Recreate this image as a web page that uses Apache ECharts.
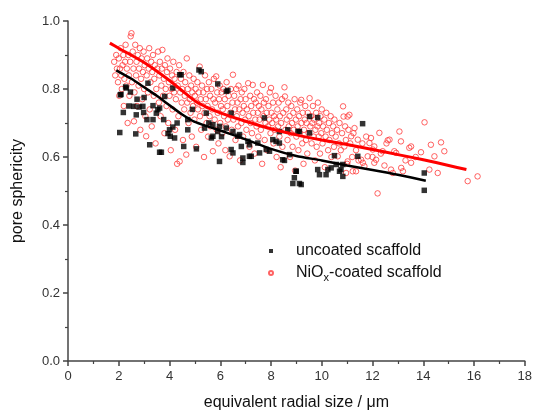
<!DOCTYPE html>
<html><head><meta charset="utf-8">
<script src="https://cdn.jsdelivr.net/npm/echarts@6/dist/echarts.min.js"></script>
<style>html,body{margin:0;padding:0;background:#fff}#c{width:535px;height:416px}</style>
</head><body><div id="c"></div>
<script>
const xTicks = [0,2,4,6,8,10,12,14,16,18];
const yTicks = [0.0,0.2,0.4,0.6,0.8,1.0];
const seriesNames = ['uncoated scaffold','NiOx-coated scaffold'];

const uncoatedPoints = [
[2.04,0.672],[2.67,0.668],[2.18,0.731],[2.09,0.784],[2.3,0.803],[2.46,0.791],[2.72,0.77],[2.59,0.749],[2.8,0.747],[2.98,0.731],
[3.11,0.71],[3.35,0.751],[3.61,0.744],[3.61,0.614],[3.48,0.729],[3.77,0.71],[3.94,0.669],[4.03,0.661],[4.13,0.688],[4.4,0.842],
[5.16,0.856],[4.56,0.631],[5.06,0.624],[4.72,0.68],[3.15,0.817],[2.27,0.806],[2.06,0.783],[4.46,0.842],[5.9,0.815],[6.3,0.796],
[3.22,0.636],[3.68,0.614],[5.71,0.661],[6.24,0.685],[6.5,0.612],[6.89,0.584],[7.22,0.602],[7.55,0.612],[7.81,0.622],[5.97,0.69],
[5.38,0.685],[4.2,0.656],[4.0,0.68],[3.54,0.739],[2.95,0.749],[2.69,0.724],[4.13,0.803],[3.81,0.778],[3.35,0.71],[4.72,0.71],
[6.76,0.666],[7.09,0.646],[5.25,0.851],[6.24,0.793],[5.45,0.729],[5.71,0.695],[5.9,0.675],[5.65,0.656],[6.43,0.729],[6.5,0.675],
[6.69,0.661],[6.83,0.631],[7.15,0.636],[7.48,0.641],[7.94,0.617],[6.43,0.622],[6.89,0.597],[7.15,0.602],[8.2,0.646],[8.33,0.675],
[8.66,0.68],[9.12,0.675],[8.46,0.592],[8.99,0.558],[8.92,0.539],[8.86,0.522],[9.12,0.522],[9.52,0.719],[9.84,0.563],[9.91,0.548],
[10.24,0.563],[10.57,0.578],[10.76,0.563],[10.83,0.543],[5.97,0.587],[9.84,0.716],[11.61,0.698],[11.42,0.602],[10.5,0.604],[10.83,0.578],
[10.17,0.548],[10.7,0.558],[8.99,0.558],[9.19,0.519],[14.04,0.553],[14.04,0.502],[8.53,0.59],[8.07,0.651],[8.33,0.641],[7.74,0.715],
[9.52,0.671],[9.06,0.675],[8.73,0.607],[10.37,0.568],[4.9,0.74],[5.55,0.7],[4.3,0.7],[3.0,0.775],[2.4,0.75],[6.05,0.66]
];

const coatedPoints = [
[1.82,0.88],[1.86,0.84],[1.9,0.9],[1.93,0.86],[1.97,0.82],[2.0,0.89],[2.02,0.78],[2.05,0.86],[2.08,0.92],[2.1,0.84],[2.12,0.8],[2.15,0.87],[2.18,0.9],[2.2,0.75],[2.22,0.83],[2.25,0.88],[2.27,0.93],[2.3,0.81],[2.32,0.86],[2.35,0.7],[2.38,0.9],[2.4,0.84],[2.42,0.78],[2.45,0.88],[2.47,0.955],[2.5,0.964],[2.52,0.82],
[2.55,0.91],[2.58,0.86],[2.6,0.705],[2.62,0.79],[2.65,0.93],[2.68,0.84],[2.7,0.88],[2.72,0.75],[2.75,0.9],[2.78,0.81],[2.8,0.86],[2.83,0.92],[2.85,0.68],[2.88,0.83],[2.9,0.89],[2.93,0.77],[2.95,0.85],[2.98,0.91],[3.0,0.8],[3.02,0.87],[3.05,0.72],[3.08,0.661],[3.1,0.84],[3.12,0.89],[3.15,0.79],[3.18,0.86],[3.2,0.92],[3.22,0.74],[3.25,0.82],[3.28,0.88],[3.3,0.69],[3.32,0.85],[3.35,0.9],[3.38,0.78],[3.4,0.83],[3.42,0.87],[3.45,0.64],[3.48,0.8],
[3.52,0.86],[3.55,0.91],[3.58,0.76],[3.6,0.84],[3.62,0.88],[3.65,0.72],[3.68,0.81],[3.7,0.86],[3.72,0.915],[3.75,0.78],[3.78,0.83],[3.8,0.67],[3.82,0.87],[3.85,0.8],[3.88,0.75],[3.9,0.85],[3.92,0.89],[3.95,0.7],[3.98,0.82],[4.0,0.78],[4.02,0.86],[4.05,0.62],[4.08,0.8],[4.1,0.84],[4.12,0.74],[4.15,0.88],[4.18,0.79],[4.2,0.83],[4.22,0.68],[4.25,0.77],[4.28,0.85],[4.3,0.58],[4.32,0.81],[4.35,0.72],[4.38,0.87],[4.4,0.587],[4.42,0.79],[4.45,0.83],[4.48,0.76],
[4.5,0.8],[4.53,0.65],[4.55,0.85],[4.58,0.74],[4.6,0.78],[4.62,0.82],[4.66,0.607],[4.68,0.89],[4.7,0.76],[4.72,0.8],[4.75,0.7],[4.78,0.84],[4.8,0.77],[4.83,0.73],[4.85,0.81],[4.88,0.66],[4.9,0.79],[4.93,0.75],[4.95,0.83],[4.98,0.71],[5.0,0.78],[5.03,0.8],[5.05,0.63],[5.08,0.76],[5.1,0.82],[5.12,0.74],[5.15,0.79],[5.19,0.866],[5.2,0.72],[5.23,0.77],[5.25,0.68],[5.28,0.81],[5.3,0.75],[5.33,0.79],[5.36,0.6],[5.38,0.73],[5.4,0.84],[5.43,0.77],[5.46,0.7],[5.48,0.8],
[5.5,0.75],[5.52,0.66],[5.55,0.82],[5.58,0.72],[5.6,0.78],[5.62,0.69],[5.65,0.8],[5.68,0.74],[5.71,0.617],[5.73,0.77],[5.75,0.83],[5.78,0.71],[5.8,0.76],[5.84,0.837],[5.86,0.68],[5.88,0.79],[5.9,0.73],[5.93,0.64],[5.95,0.77],[5.98,0.81],[6.0,0.7],[6.03,0.75],[6.05,0.79],[6.08,0.67],[6.1,0.74],[6.12,0.8],[6.15,0.72],[6.18,0.77],[6.2,0.62],[6.22,0.69],[6.25,0.82],[6.28,0.75],[6.3,0.71],[6.33,0.78],[6.37,0.602],[6.4,0.73],[6.42,0.8],[6.45,0.68],[6.48,0.76],[6.5,0.842],
[6.52,0.71],[6.55,0.78],[6.58,0.74],[6.6,0.65],[6.63,0.8],[6.65,0.72],[6.68,0.76],[6.7,0.69],[6.72,0.81],[6.75,0.74],[6.78,0.59],[6.8,0.77],[6.83,0.7],[6.85,0.79],[6.88,0.73],[6.9,0.66],[6.93,0.75],[6.95,0.8],[6.98,0.71],[7.0,0.77],[7.03,0.68],[7.05,0.74],[7.1,0.817],[7.12,0.72],[7.15,0.63],[7.18,0.78],[7.2,0.7],[7.22,0.75],[7.25,0.67],[7.28,0.812],[7.3,0.73],[7.33,0.77],[7.35,0.61],[7.38,0.71],[7.4,0.76],[7.43,0.69],[7.45,0.79],[7.48,0.73],
[7.5,0.66],[7.52,0.75],[7.55,0.71],[7.58,0.78],[7.6,0.68],[7.62,0.74],[7.65,0.58],[7.68,0.812],[7.7,0.72],[7.72,0.76],[7.75,0.65],[7.78,0.7],[7.8,0.77],[7.83,0.73],[7.85,0.62],[7.88,0.69],[7.9,0.75],[7.93,0.71],[7.95,0.79],[7.98,0.67],[8.0,0.803],[8.02,0.73],[8.05,0.7],[8.08,0.76],[8.1,0.64],[8.12,0.72],[8.15,0.68],[8.18,0.78],[8.2,0.71],[8.22,0.6],[8.25,0.74],[8.28,0.69],[8.3,0.76],[8.33,0.66],[8.35,0.72],[8.38,0.57],[8.4,0.7],[8.43,0.77],[8.45,0.63],[8.48,0.73],
[8.53,0.805],[8.55,0.778],[8.57,0.68],[8.6,0.74],[8.62,0.71],[8.65,0.65],[8.68,0.76],[8.7,0.69],[8.73,0.72],[8.75,0.6],[8.78,0.67],[8.8,0.75],[8.83,0.7],[8.85,0.63],[8.88,0.73],[8.9,0.68],[8.93,0.77],[8.95,0.56],[8.98,0.71],[9.0,0.66],[9.03,0.74],[9.05,0.69],[9.08,0.62],[9.1,0.72],[9.13,0.67],[9.15,0.76],[9.19,0.768],[9.2,0.7],[9.23,0.64],[9.25,0.73],[9.28,0.58],[9.3,0.68],[9.33,0.71],[9.35,0.75],[9.38,0.65],[9.4,0.7],[9.43,0.61],[9.45,0.73],[9.48,0.67],
[9.52,0.773],[9.55,0.69],[9.58,0.72],[9.6,0.64],[9.63,0.7],[9.65,0.75],[9.68,0.66],[9.7,0.71],[9.73,0.59],[9.75,0.68],[9.78,0.73],[9.8,0.63],[9.83,0.69],[9.85,0.76],[9.88,0.66],[9.9,0.7],[9.93,0.61],[9.95,0.72],[9.98,0.67],[10.0,0.74],[10.03,0.64],[10.05,0.69],[10.1,0.71],[10.12,0.57],[10.15,0.66],[10.18,0.73],[10.2,0.68],[10.25,0.62],[10.28,0.7],[10.3,0.65],[10.35,0.72],[10.38,0.6],[10.4,0.67],[10.45,0.69],[10.48,0.63],
[10.5,0.71],[10.55,0.66],[10.6,0.68],[10.63,0.602],[10.68,0.64],[10.7,0.7],[10.75,0.62],[10.8,0.67],[10.84,0.749],[10.86,0.719],[10.89,0.631],[10.92,0.69],[10.95,0.65],[10.96,0.553],[11.0,0.58],[11.02,0.587],[11.02,0.719],[11.05,0.68],[11.09,0.724],[11.12,0.64],[11.16,0.661],[11.2,0.6],[11.22,0.558],[11.25,0.67],[11.29,0.685],[11.35,0.62],[11.35,0.558],[11.42,0.651],[11.45,0.59],
[11.55,0.592],[11.6,0.64],[11.62,0.583],[11.68,0.573],[11.75,0.66],[11.81,0.602],[11.88,0.641],[11.94,0.656],[12.0,0.6],[12.01,0.622],[12.07,0.631],[12.07,0.583],[12.14,0.592],[12.2,0.493],[12.27,0.671],[12.33,0.61],[12.4,0.617],[12.47,0.575],[12.55,0.64],[12.6,0.649],[12.67,0.651],[12.73,0.563],[12.8,0.553],[12.86,0.617],[12.93,0.612],[13.06,0.675],[13.12,0.646],[13.13,0.568],[13.2,0.558],[13.3,0.59],[13.45,0.627],[13.52,0.631],[13.52,0.583],[13.7,0.6],[13.91,0.614],[14.05,0.702],[14.24,0.563],[14.3,0.636],[14.44,0.602],[14.57,0.553],[14.7,0.643],[14.83,0.617],[15.75,0.529],[16.14,0.543]
];

const uncoatedFit = [[1.9,0.855],[2.5,0.83],[3,0.805],[3.5,0.78],[4,0.752],[4.5,0.725],[5,0.703],[5.5,0.69],[6,0.678],[7,0.652],[8,0.624],[9,0.603],[10,0.59],[11,0.575],[12,0.562],[13,0.548],[14.1,0.53]];
const coatedFit = [[1.65,0.935],[2,0.92],[3,0.878],[4,0.825],[5,0.765],[5.5,0.745],[6,0.73],[7,0.705],[8,0.683],[9,0.665],[10,0.65],[11,0.637],[12,0.622],[13,0.607],[14,0.592],[15,0.575],[15.7,0.563]];

const chart = echarts.init(document.getElementById('c'));
const axisCol = '#444';
const font = 'Liberation Sans, Arial, sans-serif';
chart.setOption({
  animation: false,
  backgroundColor: '#fff',
  grid: {left: 68, right: 9, top: 21, bottom: 54},
  legend: {
    orient: 'vertical', left: 263, top: 238, itemGap: 6,
    itemWidth: 4, itemHeight: 4,
    data: seriesNames,
    formatter: n => n === seriesNames[1] ? '{a|NiO}{s|x}{a|-coated scaffold}' : '{a|' + n + '}',
    textStyle: {
      color: '#111', fontFamily: font, fontSize: 16, padding: [0,0,0,18],
      rich: {a: {fontSize: 16, fontFamily: font, color: '#111'},
             s: {fontSize: 11, fontFamily: font, color: '#111', padding: [9,0,0,0]}}
    }
  },
  xAxis: {
    type: 'value', min: xTicks[0], max: xTicks[xTicks.length-1], interval: 2,
    name: 'equivalent radial size / \u03bcm', nameLocation: 'middle', nameGap: 34,
    nameTextStyle: {fontFamily: font, fontSize: 16, color: '#111'},
    axisLine: {lineStyle: {color: axisCol, width: 1.5}},
    axisTick: {show: true, length: 5, lineStyle: {color: axisCol, width: 1.5}},
    minorTick: {show: true, splitNumber: 2, length: 3, lineStyle: {color: axisCol, width: 1.2}},
    axisLabel: {fontFamily: font, fontSize: 13, color: '#333', margin: 9},
    splitLine: {show: false}
  },
  yAxis: {
    type: 'value', min: yTicks[0], max: yTicks[yTicks.length-1], interval: 0.2,
    name: 'pore sphericity', nameLocation: 'middle', nameGap: 42,
    nameTextStyle: {fontFamily: font, fontSize: 16, color: '#111'},
    axisLine: {show: true, lineStyle: {color: axisCol, width: 1.5}},
    axisTick: {show: true, length: 5, lineStyle: {color: axisCol, width: 1.5}},
    minorTick: {show: true, splitNumber: 2, length: 3, lineStyle: {color: axisCol, width: 1.2}},
    axisLabel: {fontFamily: font, fontSize: 13, color: '#333', margin: 8, formatter: v => v.toFixed(1)},
    splitLine: {show: false}
  },
  series: [
    {name: seriesNames[1], type: 'scatter', data: coatedPoints, symbol: 'circle', symbolSize: 5.5, z: 2,
     itemStyle: {color: 'rgba(255,255,255,0)', borderColor: '#ff3b3b', borderWidth: 1}},
    {name: seriesNames[0], type: 'scatter', data: uncoatedPoints, symbol: 'rect', symbolSize: 5.5, z: 3,
     itemStyle: {color: '#000'}},
    {type: 'line', data: coatedFit, smooth: 0.2, showSymbol: false, symbol: 'none', z: 5,
     lineStyle: {color: '#ff0000', width: 3}},
    {type: 'line', data: uncoatedFit, smooth: 0.2, showSymbol: false, symbol: 'none', z: 5,
     lineStyle: {color: '#000', width: 2.5}}
  ]
});
</script></body></html>
